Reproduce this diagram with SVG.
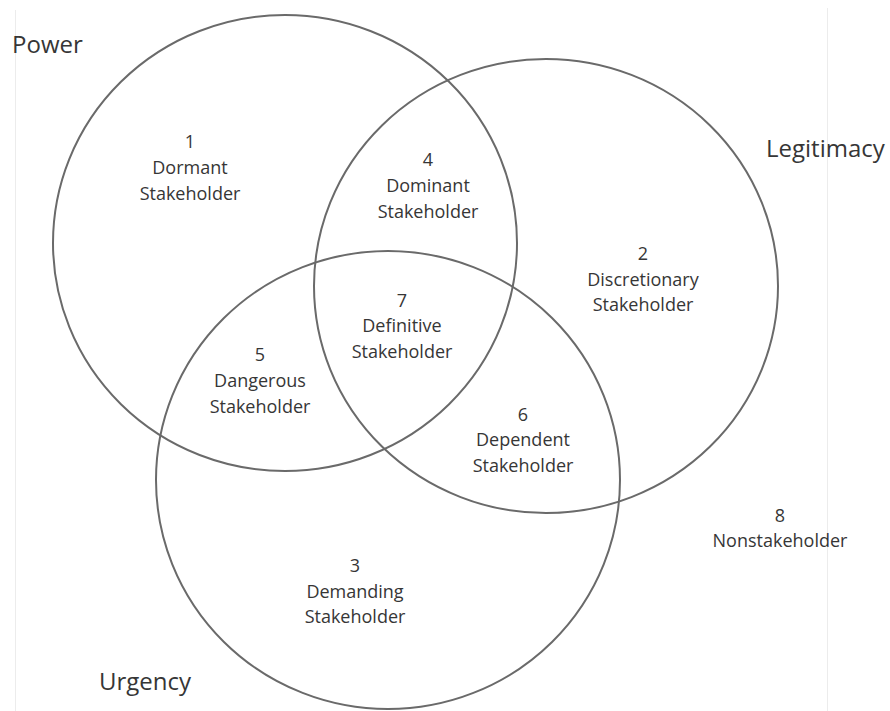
<svg xmlns="http://www.w3.org/2000/svg" width="890" height="711" viewBox="0 0 890 711">
  <style>
    .set { fill: none; stroke: #6a6a6a; stroke-width: 2; }
    .guide { stroke: #ececec; stroke-width: 1; }
    text { font-family: "Open Sans", "Noto Sans", "Liberation Sans", sans-serif; fill: #363636; text-anchor: middle; }
    .lbl { font-size: 18px; }
    .attr { font-size: 24px; text-anchor: start; }
  </style>
  <rect width="890" height="711" fill="#ffffff"/>

  <!-- faint frame lines -->
  <line class="guide" x1="15.5" y1="10" x2="15.5" y2="711"/>
  <line class="guide" x1="827.5" y1="8" x2="827.5" y2="711"/>

  <!-- attribute sets -->
  <g id="power">
    <ellipse class="set" cx="285" cy="243" rx="232" ry="228"/>
    <text class="attr" x="12" y="53">Power</text>
  </g>
  <g id="legitimacy">
    <ellipse class="set" cx="546" cy="286" rx="232" ry="227"/>
    <text class="attr" x="766" y="157">Legitimacy</text>
  </g>
  <g id="urgency">
    <ellipse class="set" cx="388" cy="480" rx="232" ry="229"/>
    <text class="attr" x="99" y="690">Urgency</text>
  </g>

  <!-- stakeholder classes -->
  <g id="dormant">
    <text class="lbl" x="190" y="148">1</text>
    <text class="lbl" x="190" y="174">Dormant</text>
    <text class="lbl" x="190" y="200">Stakeholder</text>
  </g>
  <g id="discretionary">
    <text class="lbl" x="643" y="260">2</text>
    <text class="lbl" x="643" y="286">Discretionary</text>
    <text class="lbl" x="643" y="311">Stakeholder</text>
  </g>
  <g id="demanding">
    <text class="lbl" x="355" y="572">3</text>
    <text class="lbl" x="355" y="598">Demanding</text>
    <text class="lbl" x="355" y="623">Stakeholder</text>
  </g>
  <g id="dominant">
    <text class="lbl" x="428" y="166">4</text>
    <text class="lbl" x="428" y="192">Dominant</text>
    <text class="lbl" x="428" y="218">Stakeholder</text>
  </g>
  <g id="dangerous">
    <text class="lbl" x="260" y="361">5</text>
    <text class="lbl" x="260" y="387">Dangerous</text>
    <text class="lbl" x="260" y="413">Stakeholder</text>
  </g>
  <g id="dependent">
    <text class="lbl" x="523" y="421">6</text>
    <text class="lbl" x="523" y="446">Dependent</text>
    <text class="lbl" x="523" y="472">Stakeholder</text>
  </g>
  <g id="definitive">
    <text class="lbl" x="402" y="307">7</text>
    <text class="lbl" x="402" y="332">Definitive</text>
    <text class="lbl" x="402" y="358">Stakeholder</text>
  </g>
  <g id="nonstakeholder">
    <text class="lbl" x="780" y="522">8</text>
    <text class="lbl" x="780" y="547">Nonstakeholder</text>
  </g>

  <g id="connectors"/>
</svg>
